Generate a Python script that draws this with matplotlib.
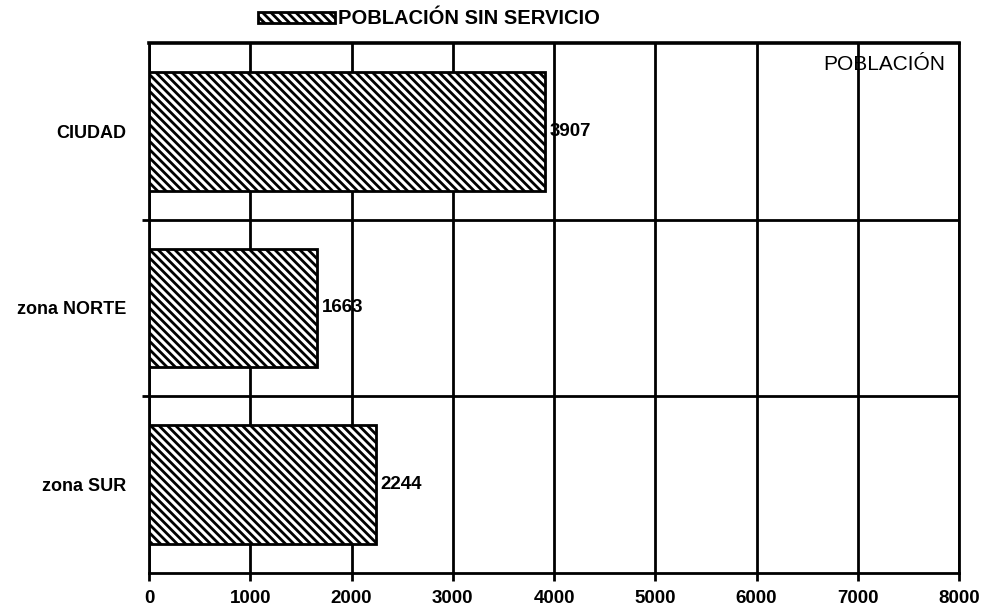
import numpy as np
import matplotlib
matplotlib.use("Agg")
import matplotlib.pyplot as plt

# --- data ---
categories = ["CIUDAD", "zona NORTE", "zona SUR"]
sin_servicio = [3907, 1663, 2244]
x_ticks = [0, 1000, 2000, 3000, 4000, 5000, 6000, 7000, 8000]
series_name = "POBLACIÓN SIN SERVICIO"
axis_title = "POBLACIÓN"

plt.rcParams["font.family"] = ["Liberation Sans", "DejaVu Sans"]
plt.rcParams["hatch.linewidth"] = 2.0
plt.rcParams["hatch.color"] = "black"

fig = plt.figure(figsize=(9.86, 6.10), dpi=100)
ax = fig.add_axes([149 / 986, 1 - 573 / 610, (959 - 149) / 986, (573 - 43) / 610])

y = np.arange(len(categories))
bars = ax.barh(y, sin_servicio, height=0.67, color="white", edgecolor="black",
               linewidth=2, hatch="\\\\\\\\", zorder=3, label=series_name)

# value labels sit under the grid lines, like the original
for yi, v in zip(y, sin_servicio):
    ax.text(v + 45, yi, str(v), ha="left", va="center", fontsize=13.5,
            fontweight="bold", zorder=1)

ax.set_xlim(0, 8000)
ax.set_ylim(len(categories) - 0.5, -0.5)
ax.set_xticks(x_ticks)
ax.set_xticklabels([str(t) for t in x_ticks], fontsize=13.5, fontweight="bold")
ax.set_yticks(y)
ax.set_yticklabels(categories, fontsize=13, fontweight="bold")
ax.set_yticks(np.arange(0.5, len(categories) - 0.5, 1), minor=True)

ax.tick_params(axis="y", which="major", length=0, pad=16.5)
ax.tick_params(axis="y", which="minor", length=5, width=2, direction="out")
ax.tick_params(axis="x", which="major", length=6, width=2, direction="out", pad=6)

ax.set_axisbelow(False)
ax.grid(axis="x", which="major", color="black", linewidth=2)
ax.grid(axis="y", which="minor", color="black", linewidth=2)
for s in ax.spines.values():
    s.set_linewidth(2)
ax.spines["top"].set_linewidth(2.6)

ax.text(945 / 986, 1 - 70 / 610, axis_title, transform=fig.transFigure,
        ha="right", va="baseline", fontsize=15, zorder=1)

fig.legend(handles=[bars], labels=[series_name], loc="center left",
           bbox_to_anchor=(258 / 986, 1 - 19 / 610), frameon=False,
           prop={"weight": "bold", "size": 14.5},
           handlelength=3.8, handleheight=0.45, handletextpad=0.15,
           borderpad=0, borderaxespad=0)

fig.savefig("out.png", dpi=100)
